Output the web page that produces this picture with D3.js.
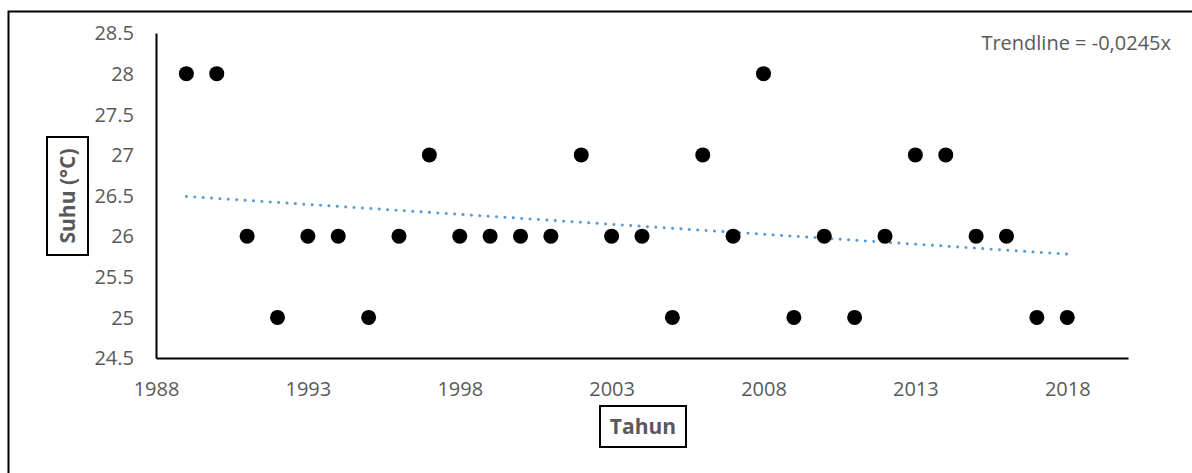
<!DOCTYPE html>
<html>
<head>
<meta charset="utf-8">
<script src="https://cdn.jsdelivr.net/npm/d3@7"></script>
<style>
  body { margin: 0; background: #fff; }
  text { font-family: "Open Sans", sans-serif; }
</style>
</head>
<body>
<div id="chart"></div>
<script>
// data
const years = [1989, 1990, 1991, 1992, 1993, 1994, 1995, 1996, 1997, 1998,
               1999, 2000, 2001, 2002, 2003, 2004, 2005, 2006, 2007, 2008,
               2009, 2010, 2011, 2012, 2013, 2014, 2015, 2016, 2017, 2018];
const temps = [28, 28, 26, 25, 26, 26, 25, 26, 27, 26,
               26, 26, 26, 27, 26, 26, 25, 27, 26, 28,
               25, 26, 25, 26, 27, 27, 26, 26, 25, 25];
const xTicks = [1988, 1993, 1998, 2003, 2008, 2013, 2018];
const yTicks = [24.5, 25, 25.5, 26, 26.5, 27, 27.5, 28, 28.5];
const trendLabel = "Trendline = -0,0245x";

const svgWidth = 1192;
const svgHeight = 473;
const margin = { top: 33, right: 64, bottom: 115, left: 156 };
const width = svgWidth - margin.left - margin.right;
const height = svgHeight - margin.top - margin.bottom;

const svg = d3.select("#chart")
    .append("svg")
    .attr("width", svgWidth)
    .attr("height", svgHeight);

// outer frame
svg.append("rect")
    .attr("x", 8.5).attr("y", 11.5)
    .attr("width", 1300).attr("height", 600)
    .attr("fill", "none")
    .attr("stroke", "#000")
    .attr("stroke-width", 2);

const g = svg.append("g")
    .attr("transform", `translate(${margin.left}, ${margin.top})`);

const xScale = d3.scaleLinear().domain([1988, 2020]).range([0, width]);
const yScale = d3.scaleLinear().domain([24.5, 28.5]).range([height, 0]);

// axes
const xAxis = g.append("g")
    .attr("transform", `translate(0, ${height})`)
    .call(d3.axisBottom(xScale).tickValues(xTicks).tickSize(0).tickPadding(24).tickFormat(d3.format("d")));
const yAxis = g.append("g")
    .call(d3.axisLeft(yScale).tickValues(yTicks).tickSize(0).tickPadding(22).tickFormat(d => String(d)));

[xAxis, yAxis].forEach(a => {
    a.select(".domain").attr("stroke", "#000").attr("stroke-width", 2);
    a.selectAll("text")
        .style("font-family", "'Open Sans', sans-serif")
        .style("font-size", "20px")
        .attr("fill", "#595959");
});
yAxis.selectAll("text").attr("dy", "0.34em");

// trendline (least squares on the data)
const mx = d3.mean(years), my = d3.mean(temps);
const slope = d3.sum(years, (x, i) => (x - mx) * (temps[i] - my)) / d3.sum(years, x => (x - mx) ** 2);
const trend = [years[0], years[years.length - 1]].map(x => [x, my + slope * (x - mx)]);

g.append("path")
    .datum(trend)
    .attr("d", d3.line().x(d => xScale(d[0])).y(d => yScale(d[1])))
    .attr("fill", "none")
    .attr("stroke", "#5B9BD5")
    .attr("stroke-width", 3)
    .attr("stroke-linecap", "round")
    .attr("stroke-dasharray", "0.1 8.3");

// points
g.selectAll("circle")
    .data(years)
    .enter()
    .append("circle")
    .attr("cx", d => xScale(d))
    .attr("cy", (d, i) => yScale(temps[i]))
    .attr("r", 7.5)
    .attr("fill", "#000");

// trend label
svg.append("text")
    .attr("x", 1171).attr("y", 43)
    .attr("dy", "0.35em")
    .attr("text-anchor", "end")
    .style("font-size", "20px")
    .attr("fill", "#595959")
    .text(trendLabel);

// axis titles in boxes
svg.append("rect")
    .attr("x", 600).attr("y", 406).attr("width", 86).attr("height", 41)
    .attr("fill", "#fff").attr("stroke", "#000").attr("stroke-width", 2);
svg.append("text")
    .attr("x", 643).attr("y", 427)
    .attr("dy", "0.35em")
    .attr("text-anchor", "middle")
    .style("font-size", "21px")
    .style("font-weight", "bold")
    .attr("fill", "#595959")
    .text("Tahun");

svg.append("rect")
    .attr("x", 47).attr("y", 137).attr("width", 41).attr("height", 118)
    .attr("fill", "#fff").attr("stroke", "#000").attr("stroke-width", 2);
svg.append("text")
    .attr("transform", "translate(67.5, 196) rotate(-90)")
    .attr("dy", "0.35em")
    .attr("text-anchor", "middle")
    .style("font-size", "21px")
    .style("font-weight", "bold")
    .attr("fill", "#595959")
    .text("Suhu (°C)");
</script>
</body>
</html>
